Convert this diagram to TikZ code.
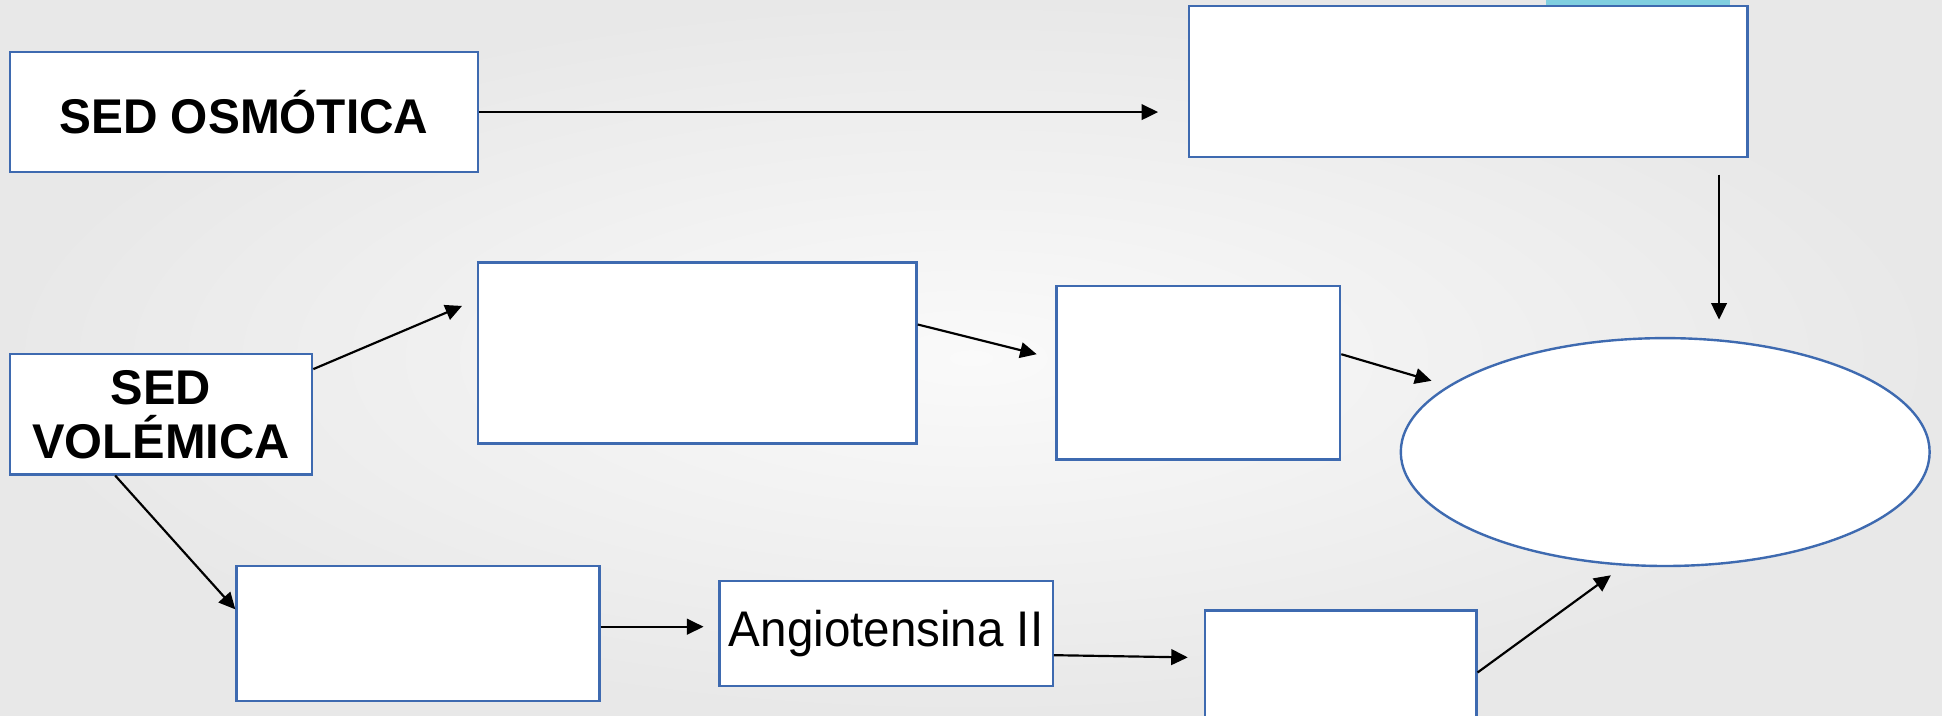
\documentclass[tikz,border=0pt]{standalone}
\usepackage{fontspec}
\setmainfont{Liberation Sans}
\usetikzlibrary{shapes,arrows.meta,positioning,calc}
\usepackage{xcolor}
\usepackage{graphicx}
\definecolor{boxblue}{RGB}{62,106,176}
\definecolor{tabcyan}{RGB}{128,207,224}

\begin{document}
\begin{tikzpicture}[
    box/.style={draw=boxblue, line width=0.55pt, fill=white, inner sep=0pt, align=center},
    arr/.style={-{Triangle[length=3.8pt,width=3.6pt]}, line width=0.5pt},
    bigtext/.style={font=\fontsize{11.2}{12.4}\selectfont\bfseries}
]
    % Background of the slide
    \useasboundingbox (0,0) rectangle (15.68,-5.78);
    \clip (0,0) rectangle (15.68,-5.78);
    \shade[inner color=white!98!black, outer color=white!91!black] (0,0) rectangle (15.68,-5.78);
    \fill[tabcyan] (12.48,0) rectangle (13.97,-0.05);

    % Boxes
    \node[box, bigtext, minimum width=3.78cm, minimum height=0.97cm] (osm) at (1.97,-0.905) {\scalebox{0.98}[1]{SED OSMÓTICA}};
    \node[box, minimum width=4.51cm, minimum height=1.22cm] (res) at (11.855,-0.66) {};
    \node[box, bigtext, minimum width=2.44cm, minimum height=0.97cm] (vol) at (1.30,-3.345) {SED\\VOLÉMICA};
    \node[box, minimum width=3.54cm, minimum height=1.46cm] (mida) at (5.63,-2.85) {};
    \node[box, minimum width=2.29cm, minimum height=1.40cm] (midb) at (9.675,-3.01) {};
    \node[box, ellipse, minimum width=4.27cm, minimum height=1.84cm] (ell) at (13.445,-3.65) {};
    \node[box, minimum width=2.93cm, minimum height=1.09cm] (lowa) at (3.375,-5.115) {};
    \node[box, font=\fontsize{11.5}{13}\selectfont, minimum width=2.69cm, minimum height=0.85cm] (ang) at (7.155,-5.115) {\scalebox{0.95}[1]{Angiotensina II}};
    \node[box, minimum width=2.19cm, minimum height=0.94cm] (lowc) at (10.825,-5.40) {};

    % Arrows
    \draw[arr, shorten >=0.24cm] (osm.east) -- (osm.east -| res.west);
    \draw[arr, shorten <=0.13cm, shorten >=0.14cm] ([xshift=-0.24cm]res.south east) -- ([xshift=-0.24cm]res.south east |- ell.north);
    \draw[arr] ([yshift=-0.13cm]vol.north east) -- ([xshift=-0.12cm,yshift=-0.36cm]mida.north west);
    \draw[arr] ([yshift=0.23cm]mida.east) -- ([xshift=-0.15cm,yshift=0.15cm]midb.west);
    \draw[arr, shorten >=0.14cm] ([yshift=0.15cm]midb.east) -- (ell.163);
    \draw[arr] ([xshift=-0.37cm]vol.south) -- ([yshift=0.195cm]lowa.west);
    \draw[arr, shorten >=0.12cm] ([yshift=0.055cm]lowa.east) -- ([yshift=0.055cm]ang.west);
    \draw[arr, shorten >=0.13cm] ([yshift=-0.175cm]ang.east) -- ([yshift=0.09cm]lowc.west);
    \draw[arr, shorten >=0.13cm] ([yshift=-0.03cm]lowc.east) -- (ell.250);
\end{tikzpicture}
\end{document}
